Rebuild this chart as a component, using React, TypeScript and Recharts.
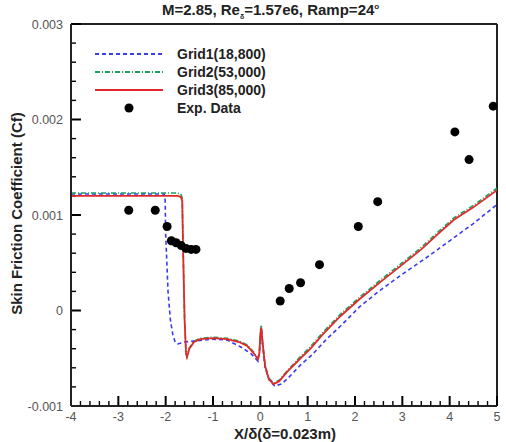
import React from 'react';
import { ComposedChart, Line, Scatter, XAxis, YAxis, ReferenceLine } from 'recharts';

// [x/delta, Cf]
const grid1Points: [number, number][] = [
  [-4, 0.00122], [-2.03, 0.00122], [-2.01, 0.00115], [-2.0, 0.0008], [-1.95, 0.0002],
  [-1.9, -0.0001], [-1.85, -0.00025], [-1.8, -0.00033], [-1.75, -0.00035], [-1.6, -0.00033],
  [-1.4, -0.00032], [-1.0, -0.0003], [-0.7, -0.00031], [-0.42, -0.00038], [-0.2, -0.00045],
  [-0.05, -0.00053], [0.0, -0.00035], [0.02, -0.0002], [0.05, -0.00037], [0.1, -0.0006],
  [0.2, -0.00074], [0.3, -0.00079], [0.45, -0.00077], [0.6, -0.0007], [0.85, -0.00057],
  [1.1, -0.00046], [1.4, -0.0003], [1.7, -0.00016], [2.1, 0.00004], [2.5, 0.0002],
  [3.0, 0.00038], [3.5, 0.00055], [4.0, 0.00073], [4.5, 0.00091], [5.0, 0.00111],
];

const grid2Points: [number, number][] = [
  [-4, 0.00123], [-1.75, 0.00123], [-1.68, 0.00122], [-1.65, 0.00118], [-1.63, 0.0006],
  [-1.6, -0.0001], [-1.57, -0.00044], [-1.55, -0.00048], [-1.5, -0.00039], [-1.4, -0.00032],
  [-1.27, -0.00029], [-1.0, -0.00028], [-0.7, -0.00029], [-0.45, -0.00032], [-0.28, -0.00036],
  [-0.15, -0.00043], [-0.05, -0.0005], [-0.02, -0.00044], [0.0, -0.00022], [0.02, -0.00015],
  [0.05, -0.00034], [0.1, -0.00057], [0.18, -0.00071], [0.28, -0.00076], [0.4, -0.00073],
  [0.57, -0.00063], [0.85, -0.00048], [1.06, -0.00038], [1.3, -0.00024], [1.69, -0.00004],
  [2.1, 0.00014], [2.54, 0.00032], [3.0, 0.0005], [3.4, 0.00066], [3.75, 0.00082],
  [4.09, 0.00097], [4.5, 0.0011], [5.0, 0.00128],
];

const grid3Points: [number, number][] = [
  [-4, 0.0012], [-1.75, 0.0012], [-1.68, 0.00119], [-1.65, 0.00115], [-1.63, 0.0006],
  [-1.6, -0.0001], [-1.57, -0.00045], [-1.55, -0.00049], [-1.5, -0.0004], [-1.4, -0.00033],
  [-1.27, -0.0003], [-1.0, -0.00029], [-0.7, -0.0003], [-0.45, -0.00033], [-0.28, -0.00037],
  [-0.15, -0.00044], [-0.05, -0.00051], [-0.02, -0.00045], [0.0, -0.00025], [0.02, -0.00018],
  [0.05, -0.00035], [0.1, -0.00058], [0.18, -0.00072], [0.28, -0.00077], [0.4, -0.00074],
  [0.57, -0.00064], [0.85, -0.0005], [1.06, -0.0004], [1.3, -0.00026], [1.69, -0.00006],
  [2.1, 0.00012], [2.54, 0.0003], [3.0, 0.00048], [3.4, 0.00064], [3.75, 0.0008],
  [4.09, 0.00095], [4.5, 0.00108], [5.0, 0.00126],
];

const expPoints: [number, number][] = [
  [-2.78, 0.00105], [-2.22, 0.00105], [-1.97, 0.00088], [-1.88, 0.00073], [-1.78, 0.00071],
  [-1.67, 0.00068], [-1.57, 0.00065], [-1.46, 0.00064], [-1.36, 0.00064], [0.42, 0.0001],
  [0.61, 0.00023], [0.85, 0.00029], [1.25, 0.00048], [2.07, 0.00088], [2.48, 0.00114],
  [4.11, 0.00187], [4.41, 0.00158], [4.92, 0.00214],
];

const xMajorTicks = [-4, -3, -2, -1, 0, 1, 2, 3, 4, 5];
const yMajorTicks = [-0.001, 0, 0.001, 0.002, 0.003];
const yTickLabels = ['-0.001', '0', '0.001', '0.002', '0.003'];

const X_MIN = -4, X_MAX = 5, Y_MIN = -0.001, Y_MAX = 0.003;

const toRows = (pts: [number, number][]) => pts.map(([x, y]) => ({ x, y }));

// minor ticks: 5 per major interval
const xTicks: number[] = [];
for (let i = 0; i < (xMajorTicks.length - 1) * 5 + 1; i++) xTicks.push(Math.round((X_MIN + i * 0.2) * 10) / 10);
const yTicks: number[] = [];
for (let i = 0; i < (yMajorTicks.length - 1) * 5 + 1; i++) yTicks.push(Math.round((Y_MIN + i * 0.0002) * 1e5) / 1e5);

const PLOT_LEFT = 71;
const PLOT_BOTTOM = 406;
// inward tick lengths in data units (~10px / ~5px)
const X_TICK_MAJOR = 0.000105, X_TICK_MINOR = 0.000052;
const Y_TICK_MAJOR = 0.21, Y_TICK_MINOR = 0.105;

const AXIS = '#222';
const BLUE = '#3a3af0';
const GREEN = '#1aa060';
const RED = '#e02a2a';
const FONT = '"Liberation Sans", Arial, sans-serif';

const isXMajor = (v: number) => xMajorTicks.some((m) => Math.abs(m - v) < 1e-6);
const isYMajor = (v: number) => yMajorTicks.some((m) => Math.abs(m - v) < 1e-9);

const XLabel = (props: any) => {
  const { x, payload } = props;
  return (
    <text x={x} y={PLOT_BOTTOM + 15} textAnchor="middle" fontSize={12.5} fill="#555" fontFamily={FONT}>
      {payload.value}
    </text>
  );
};

const YLabel = (props: any) => {
  const { y, payload } = props;
  const idx = yMajorTicks.findIndex((m) => Math.abs(m - payload.value) < 1e-9);
  return (
    <text x={PLOT_LEFT - 8} y={y + 4.5} textAnchor="end" fontSize={12.5} fill="#555" fontFamily={FONT}>
      {idx >= 0 ? yTickLabels[idx] : ''}
    </text>
  );
};

const legendItems = [
  { name: 'Grid1(18,800)', color: BLUE, dash: '4 3', kind: 'line' },
  { name: 'Grid2(53,000)', color: GREEN, dash: '5 2 1 2', kind: 'line' },
  { name: 'Grid3(85,000)', color: RED, dash: undefined, kind: 'line' },
  { name: 'Exp. Data', color: '#000', dash: undefined, kind: 'dot' },
];

export default function App() {
  return (
    <div style={{ position: 'absolute', left: 0, top: 0, width: 506, height: 442, background: '#fff', fontFamily: FONT }}>
      <ComposedChart width={506} height={442} margin={{ top: 24, right: 9, bottom: 0, left: 0 }}>
        <XAxis
          dataKey="x"
          type="number"
          domain={[X_MIN, X_MAX]}
          ticks={xMajorTicks}
          interval={0}
          tickLine={false}
          tick={<XLabel />}
          height={36}
          axisLine={{ stroke: AXIS, strokeWidth: 2 }}
          allowDataOverflow
        />
        <YAxis
          dataKey="y"
          type="number"
          domain={[Y_MIN, Y_MAX]}
          ticks={yMajorTicks}
          interval={0}
          tickLine={false}
          tick={<YLabel />}
          width={71}
          axisLine={{ stroke: AXIS, strokeWidth: 2 }}
          allowDataOverflow
        />
        <ReferenceLine x={X_MAX} stroke={AXIS} strokeWidth={2} ifOverflow="visible" />
        <ReferenceLine y={Y_MAX} stroke={AXIS} strokeWidth={2} ifOverflow="visible" />
        {xTicks.map((v) => (
          <ReferenceLine
            key={`xt${v}`}
            ifOverflow="visible"
            segment={[{ x: v, y: Y_MIN }, { x: v, y: Y_MIN + (isXMajor(v) ? X_TICK_MAJOR : X_TICK_MINOR) }]}
            stroke="#000"
            strokeWidth={isXMajor(v) ? 2 : 1.4}
          />
        ))}
        {yTicks.map((v) => (
          <ReferenceLine
            key={`yt${v}`}
            ifOverflow="visible"
            segment={[{ x: X_MIN, y: v }, { x: X_MIN + (isYMajor(v) ? Y_TICK_MAJOR : Y_TICK_MINOR), y: v }]}
            stroke="#000"
            strokeWidth={isYMajor(v) ? 2 : 1.4}
          />
        ))}
        <Line data={toRows(grid1Points)} dataKey="y" type="linear" stroke={BLUE} strokeWidth={1.6} strokeDasharray="4 3" dot={false} isAnimationActive={false} />
        <Line data={toRows(grid2Points)} dataKey="y" type="linear" stroke={GREEN} strokeWidth={1.6} strokeDasharray="5 2 1 2" dot={false} isAnimationActive={false} />
        <Line data={toRows(grid3Points)} dataKey="y" type="linear" stroke={RED} strokeWidth={1.8} dot={false} isAnimationActive={false} />
        <Scatter data={toRows(expPoints)} dataKey="y" fill="#000" shape={(p: any) => <circle cx={p.cx} cy={p.cy} r={4.5} fill="#000" />} isAnimationActive={false} />
      </ComposedChart>

      {/* title */}
      <div style={{ position: 'absolute', left: 162, top: 1, whiteSpace: 'nowrap', fontSize: 15, fontWeight: 'bold', color: '#222' }}>
        M=2.85, Re<sub style={{ fontSize: 7 }}>δ</sub>=1.57e6, Ramp=24<sup style={{ fontSize: 8 }}>o</sup>
      </div>

      {/* axis titles */}
      <div style={{ position: 'absolute', left: 71, top: 426, width: 428, textAlign: 'center', fontSize: 15, lineHeight: '15px', fontWeight: 'bold', color: '#222' }}>
        X/δ(δ=0.023m)
      </div>
      <div
        style={{
          position: 'absolute', left: 16, top: 214, width: 280, marginLeft: -140, marginTop: -9,
          textAlign: 'center', fontSize: 15, fontWeight: 'bold', color: '#222', transform: 'rotate(-90deg)', whiteSpace: 'nowrap',
        }}
      >
        Skin Friction Coefficient (Cf)
      </div>

      {/* legend */}
      <svg style={{ position: 'absolute', left: 0, top: 0 }} width={506} height={442} pointerEvents="none">
        {legendItems.map((it, i) => {
          const cy = 54 + i * 18;
          return (
            <g key={it.name}>
              {it.kind === 'line' ? (
                <line x1={95} x2={163} y1={cy} y2={cy} stroke={it.color} strokeWidth={1.8} strokeDasharray={it.dash} />
              ) : (
                <circle cx={129} cy={cy} r={4.5} fill="#000" />
              )}
              <text x={177} y={cy + 5} fontSize={14} fontWeight="bold" fill="#222" fontFamily={FONT}>
                {it.name}
              </text>
            </g>
          );
        })}
      </svg>
    </div>
  );
}
